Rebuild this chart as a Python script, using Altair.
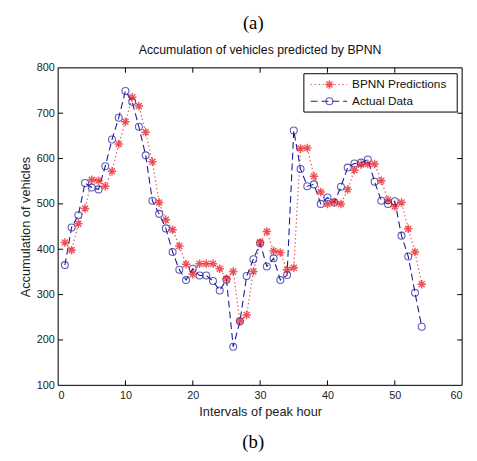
import altair as alt
import pandas as pd

intervals = list(range(1, 55))
actual = [365, 448, 475, 546, 536, 532, 583, 642, 690, 749,
          725, 670, 607, 507, 478, 446, 394, 355, 332, 357,
          342, 342, 330, 309, 333, 185, 241, 341, 378, 413,
          362, 380, 332, 343, 662, 577, 539, 543, 500, 514,
          503, 538, 580, 589, 591, 598, 549, 507, 500, 506,
          430, 384, 304, 229]
predicted = [415, 398, 456, 490, 553, 551, 539, 572, 632, 681,
             735, 716, 658, 593, 503, 465, 443, 407, 367, 345,
             368, 368, 368, 357, 335, 351, 242, 255, 351, 415,
             439, 396, 393, 355, 359, 622, 623, 561, 526, 500,
             504, 500, 532, 574, 587, 588, 588, 551, 509, 494,
             503, 445, 394, 323]
x_ticks = [0, 10, 20, 30, 40, 50, 60]
y_ticks = [100, 200, 300, 400, 500, 600, 700, 800]
legend_labels = ["BPNN Predictions", "Actual Data"]

W, H = 411, 323
FONT = "Liberation Sans"
RED = "#e8141c"
RED_LINE = "#e06060"
BLUE = "#1a1a9a"
STAR = "M-1,0H1M0,-1V1M-0.7,-0.7L0.7,0.7M-0.7,0.7L0.7,-0.7"
STAR_SIZE = 75

df = pd.DataFrame({"x": intervals, "actual": actual, "pred": predicted})
xs = alt.Scale(domain=[0, 60], nice=False)
ys = alt.Scale(domain=[100, 800], nice=False)

xaxis = alt.Axis(values=x_ticks, ticks=False, grid=False, domain=False,
                 labelFont=FONT, labelFontSize=11, labelColor="#222",
                 labelPadding=4, title="Intervals of peak hour",
                 titleFont=FONT, titleFontSize=13, titleFontWeight="normal",
                 titleColor="#222", titlePadding=6)
yaxis = alt.Axis(values=y_ticks, ticks=False, grid=False, domain=False,
                 labelFont=FONT, labelFontSize=11, labelColor="#222",
                 labelPadding=4, title="Accumulation of vehicles",
                 titleFont=FONT, titleFontSize=13, titleFontWeight="normal",
                 titleColor="#222", titlePadding=4)

base = alt.Chart(df)
pred_line = base.mark_line(color=RED_LINE, strokeDash=[1.5, 2.5], strokeWidth=1.2).encode(
    x=alt.X("x:Q", scale=xs, axis=xaxis),
    y=alt.Y("pred:Q", scale=ys, axis=yaxis),
)
act_line = base.mark_line(color=BLUE, strokeDash=[7, 4], strokeWidth=1.1).encode(
    x=alt.X("x:Q", scale=xs), y=alt.Y("actual:Q", scale=ys))
act_pts = base.mark_point(shape="circle", filled=False, color=BLUE, size=50, strokeWidth=1.1).encode(
    x=alt.X("x:Q", scale=xs), y=alt.Y("actual:Q", scale=ys))
pred_pts = base.mark_point(shape=STAR, filled=False, color=RED, size=STAR_SIZE, strokeWidth=1.5).encode(
    x=alt.X("x:Q", scale=xs), y=alt.Y("pred:Q", scale=ys))

# frame
frame = alt.Chart(pd.DataFrame({"a": [0]})).mark_rect(fill=None, stroke="#000", strokeWidth=1).encode(
    x=alt.value(0), x2=alt.value(W), y=alt.value(0), y2=alt.value(H))

# inward ticks
xt = pd.DataFrame({"t": x_ticks[1:-1]})
yt = pd.DataFrame({"t": y_ticks[1:-1]})
xtick_b = alt.Chart(xt).mark_rule(color="#000").encode(
    x=alt.X("t:Q", scale=xs), y=alt.value(H), y2=alt.value(H - 5))
xtick_t = alt.Chart(xt).mark_rule(color="#000").encode(
    x=alt.X("t:Q", scale=xs), y=alt.value(0), y2=alt.value(5))
ytick_l = alt.Chart(yt).mark_rule(color="#000").encode(
    y=alt.Y("t:Q", scale=ys), x=alt.value(0), x2=alt.value(5))
ytick_r = alt.Chart(yt).mark_rule(color="#000").encode(
    y=alt.Y("t:Q", scale=ys), x=alt.value(W), x2=alt.value(W - 5))

# legend
lx0, lx1, ly0, ly1 = 250, 406, 6, 45
leg_box = alt.Chart(pd.DataFrame({"a": [0]})).mark_rect(fill="white", stroke="#000", strokeWidth=1).encode(
    x=alt.value(lx0), x2=alt.value(lx1), y=alt.value(ly0), y2=alt.value(ly1))
r1, r2 = 17, 34
leg_l1 = alt.Chart(pd.DataFrame({"a": [0]})).mark_rule(color=RED_LINE, strokeDash=[1.5, 2.5], strokeWidth=1.2).encode(
    x=alt.value(257), x2=alt.value(294), y=alt.value(r1))
leg_p1 = alt.Chart(pd.DataFrame({"a": [0]})).mark_point(shape=STAR, filled=False, color=RED, size=STAR_SIZE, strokeWidth=1.5).encode(
    x=alt.value(276), y=alt.value(r1))
leg_l2 = alt.Chart(pd.DataFrame({"a": [0]})).mark_rule(color=BLUE, strokeDash=[7, 4], strokeWidth=1.1).encode(
    x=alt.value(257), x2=alt.value(294), y=alt.value(r2))
leg_p2 = alt.Chart(pd.DataFrame({"a": [0]})).mark_point(shape="circle", filled=False, color=BLUE, size=50, strokeWidth=1.1).encode(
    x=alt.value(276), y=alt.value(r2))
leg_txt = alt.Chart(pd.DataFrame({"lab": legend_labels, "yy": [r1, r2]})).mark_text(
    align="left", baseline="middle", font=FONT, fontSize=12, color="#111").encode(
    x=alt.value(299), y=alt.Y("yy:Q", scale=None), text="lab:N")

# titles
title_t = alt.Chart(pd.DataFrame({"s": ["Accumulation of vehicles predicted by BPNN"]})).mark_text(
    font=FONT, fontSize=12.5, color="#111", baseline="middle").encode(
    x=alt.value(W / 2), y=alt.value(-18), text="s:N")
a_t = alt.Chart(pd.DataFrame({"s": ["(a)"]})).mark_text(
    font="Liberation Serif", fontSize=19, color="#000", baseline="middle").encode(
    x=alt.value(W / 2 - 7), y=alt.value(-45), text="s:N")
b_t = alt.Chart(pd.DataFrame({"s": ["(b)"]})).mark_text(
    font="Liberation Serif", fontSize=19, color="#000", baseline="middle").encode(
    x=alt.value(W / 2 - 7), y=alt.value(H + 58), text="s:N")

chart = alt.layer(
    pred_line, act_line, act_pts, pred_pts, frame,
    xtick_b, xtick_t, ytick_l, ytick_r,
    leg_box, leg_l1, leg_l2, leg_p1, leg_p2, leg_txt,
    title_t, a_t, b_t,
).properties(
    width=W, height=H,
    autosize=alt.AutoSizeParams(type="none"),
    padding={"left": 51, "top": 57, "right": 7, "bottom": 65},
).configure_view(stroke=None).configure(background="white")

chart.save("out.html", embed_options={"renderer": "svg", "actions": False})
